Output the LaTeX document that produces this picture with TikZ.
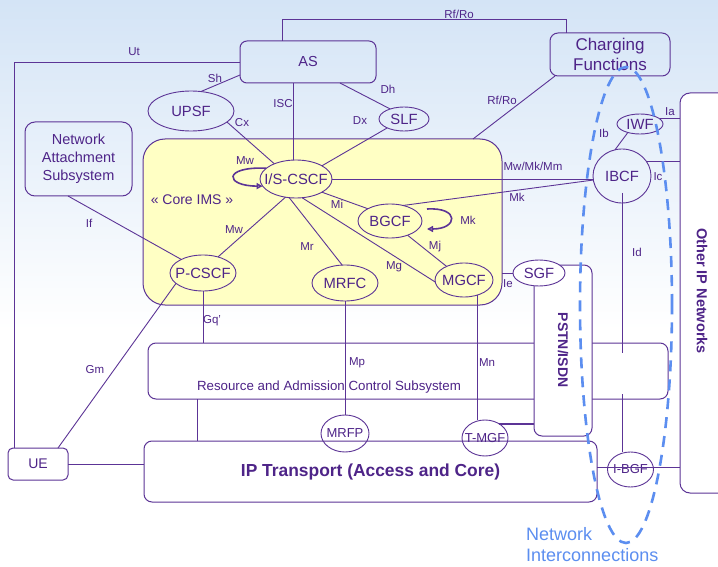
\documentclass[tikz,border=0pt]{standalone}
\usepackage{fontspec}
\setmainfont{Liberation Sans}
\usetikzlibrary{shapes.geometric,arrows.meta}
\definecolor{lc}{RGB}{92,52,150}
\definecolor{tc}{RGB}{78,36,136}
\definecolor{imsfill}{RGB}{255,255,196}
\definecolor{netblue}{RGB}{92,142,240}
\definecolor{bgA}{RGB}{212,228,246}
\definecolor{bgC}{RGB}{240,245,252}

\begin{document}
\begin{tikzpicture}[x=1pt,y=-1pt,
  ln/.style={draw=lc,line width=0.9pt},
  box/.style={draw=lc,line width=1pt,rounded corners=#1,inner sep=0,outer sep=0,text=tc,align=center},
  box/.default=7pt,
  elltext/.style={text=tc,inner sep=0,font=\fontsize{14.8}{17}\selectfont},
  elltextsm/.style={text=tc,inner sep=0,font=\fontsize{13}{15}\selectfont},
  ell/.style={ellipse,draw=lc,line width=0.9pt,inner sep=0,outer sep=0,label={[elltext]center:#1}},
  ellsm/.style={ellipse,draw=lc,line width=0.9pt,inner sep=0,outer sep=0,label={[elltextsm]center:#1}},
  lab/.style={text=tc,inner sep=0,font=\fontsize{11.5}{13}\selectfont},
  loopln/.style={draw=lc,line width=1.6pt,-{Triangle[open,length=6pt,width=6pt]}},
]
\useasboundingbox (0,0) rectangle (718,567);
\clip (0,0) rectangle (718,567);

% soft backdrop, pale blue at the top fading to white
\fill[white] (0,0) rectangle (718,567);
\shade[top color=bgA, middle color=bgC, bottom color=white] (0,0) rectangle (718,330);

% ---- boxes ----
\node[box=22pt, fill=imsfill, minimum width=359pt, minimum height=166pt] (core) at (322.5,222) {};
\node[box, minimum width=136pt, minimum height=42pt, font=\fontsize{14.5}{17}\selectfont] (as) at (308,62) {AS};
\node[box=8pt, minimum width=120pt, minimum height=43pt, font=\fontsize{17}{19.5}\selectfont] (cf) at (610,54.5) {Charging\\Functions};
\node[box=10pt, minimum width=107pt, minimum height=74pt, font=\fontsize{14.5}{18}\selectfont] (nas) at (78.5,159) {Network\\Attachment\\Subsystem};
\node[box=8pt, fill=white, minimum width=520pt, minimum height=56pt] (racs) at (408,371) {};
\node[box=8pt, fill=white, minimum width=453pt, minimum height=61pt, font=\bfseries\fontsize{17.4}{20}\selectfont] (ipt) at (370.5,471.5) {IP Transport (Access and Core)};
\node[box=5pt, minimum width=60pt, minimum height=32pt, font=\fontsize{14}{16}\selectfont] (ue) at (38,464) {UE};
\node[box=8pt, fill=white, minimum width=58pt, minimum height=171pt] (pstn) at (563,350.5) {};
\node[box=10pt, fill=white, minimum width=60pt, minimum height=400pt] (oipn) at (710,293) {};

% box captions
\node[lab, font=\fontsize{14}{16}\selectfont] (coretext) at (192,200) {« Core IMS »};
\node[lab, font=\fontsize{13.3}{15}\selectfont] (racstext) at (329,387) {Resource and Admission Control Subsystem};
\node[lab, font=\bfseries\fontsize{14}{16}\selectfont, rotate=-90] (pstntext) at (563,350) {PSTN/ISDN};
\node[lab, font=\bfseries\fontsize{14.5}{16}\selectfont, rotate=-90] (oipntext) at (702,291) {Other IP Networks};

% ---- functional entities ----
\node[ell=UPSF, minimum width=86pt, minimum height=40pt] (upsf) at (191,111) {};
\node[ell=SLF, minimum width=50pt, minimum height=24pt] (slf) at (404,119) {};
\node[ell=I/S-CSCF, minimum width=72pt, minimum height=38pt] (iscscf) at (296,179) {};
\node[ell=BGCF, minimum width=64pt, minimum height=34pt] (bgcf) at (390,221) {};
\node[ell=MGCF, minimum width=58pt, minimum height=34pt] (mgcf) at (464,280) {};
\node[ell=MRFC, minimum width=66pt, minimum height=36pt] (mrfc) at (345,283) {};
\node[ell=P-CSCF, minimum width=66pt, minimum height=36pt] (pcscf) at (203,273) {};
\node[ell=IBCF, minimum width=58pt, minimum height=54pt] (ibcf) at (622,176) {};
\node[ell=IWF, minimum width=46pt, minimum height=20pt] (iwf) at (640,124) {};
\node[ell=SGF, fill=white, minimum width=52pt, minimum height=26pt] (sgf) at (539,273) {};
\node[ellsm=MRFP, minimum width=48pt, minimum height=37pt] (mrfp) at (345,433.5) {};
\node[ellsm=T-MGF, minimum width=46pt, minimum height=36pt] (tmgf) at (485,438) {};
\node[ellsm=I-BGF, minimum width=46pt, minimum height=35pt] (ibgf) at (630.5,469.5) {};

% ---- reference points ----
\coordinate (rftop) at (566,19);
\coordinate (iscTop) at ([xshift=-15pt]as.south);
\coordinate (idTop) at ([yshift=10pt]ibcf.south);
\coordinate (idA) at (622,353);
\coordinate (idB) at (622,394);
\coordinate (racsIpt) at ([xshift=-211pt]racs.south);
\coordinate (iptOut) at ([yshift=4.5pt]ipt.east);
\coordinate (mkA) at ([shift={(5pt,12pt)}]bgcf.east);
\coordinate (mkB) at ([shift={(5pt,-8pt)}]bgcf.east);

% ---- interfaces ----
\draw[ln] ([xshift=-26pt]as.north) |- (rftop) -- (rftop |- cf.north);
\draw[ln] (as.west) -| ([xshift=-24pt]ue.north);
\draw[ln] (upsf.63) -- ([yshift=-13pt]as.west);
\draw[ln] (upsf.-17) -- (iscscf.145);
\draw[ln] (iscTop) -- (iscTop |- iscscf.north);
\draw[ln] ([xshift=32pt]as.south) -- (slf.144);
\draw[ln] (slf.208) -- (iscscf.27);
\draw[ln] ([xshift=-55pt]cf.south) -- ([xshift=150.5pt]core.north);
\draw[ln] (iscscf.east) -- (iscscf.east -| ibcf.west);
\draw[ln] (bgcf.50) -- (ibcf.188);
\draw[ln] (iwf.215) -- (ibcf.105);
\draw[ln] (iwf.15) -- (iwf.15 -| oipn.west);
\draw[ln] (ibcf.31) -- (ibcf.31 -| oipn.west);
\draw[ln] (idTop) -- (idA);
\draw[ln] (idB) -- (idB |- ibgf.north);
\draw[ln] (iscscf.-27) -- (bgcf.151);
\draw[ln] (bgcf.-39) -- (mgcf.142);
\draw[ln] (iscscf.-72) -- (mgcf.184);
\draw[ln] (iscscf.-110) -- (mrfc.99);
\draw[ln] (iscscf.-120) -- (pcscf.47);
\draw[ln] ([xshift=-10.5pt]nas.south) -- (pcscf.148);
\draw[ln] (pcscf.south) -- (pcscf.south |- racs.north);
\draw[ln] (pcscf.201) -- ([xshift=20pt]ue.north);
\draw[ln] (sgf.west -| core.east) -- (sgf.west);
\draw[ln] (mrfc.south) -- (mrfc.south |- mrfp.north);
\draw[ln] (mgcf.-49.5) -- (mgcf.-49.5 |- tmgf.north);
\draw[ln] (racsIpt) -- (racsIpt |- ipt.north);
\draw[ln] (ue.east) -- (ue.east -| ipt.west);
\draw[ln] (iptOut) -- (iptOut -| oipn.west);
\draw[draw=lc, line width=2.6pt] (tmgf.45) -- (tmgf.45 -| pstn.west);

% self-referencing interfaces
\draw[loopln] (iscscf.160) .. controls +(-44,-2) and +(-38,0) .. (iscscf.192);
\draw[loopln] (mkA) .. controls +(33,-2) and +(31,0) .. (mkB);

% ---- interface labels ----
\node[lab] (lrf1) at (459,14) {Rf/Ro};
\node[lab] (lut) at (134,52) {Ut};
\node[lab] (lsh) at (215,78) {Sh};
\node[lab] (lcx) at (242,123) {Cx};
\node[lab] (lisc) at (283,104) {ISC};
\node[lab] (ldh) at (388,89) {Dh};
\node[lab] (ldx) at (360,121) {Dx};
\node[lab] (lrf2) at (502,100) {Rf/Ro};
\node[lab] (lmwm) at (533,166) {Mw/Mk/Mm};
\node[lab] (lmk1) at (517,197) {Mk};
\node[lab] (lia) at (670,112) {Ia};
\node[lab] (lib) at (604,133) {Ib};
\node[lab] (lic) at (658,177) {Ic};
\node[lab] (lid) at (637,252) {Id};
\node[lab] (lmwl) at (245,161) {Mw};
\node[lab] (lmkl) at (468,220) {Mk};
\node[lab] (lmi) at (337,204) {Mi};
\node[lab] (lmj) at (435,247) {Mj};
\node[lab] (lmg) at (394,267) {Mg};
\node[lab] (lmr) at (307,247) {Mr};
\node[lab] (lmw) at (234,230) {Mw};
\node[lab] (lif) at (89,223) {If};
\node[lab] (lgq) at (212,321) {Gq'};
\node[lab] (lgm) at (95,370) {Gm};
\node[lab] (lie) at (508,284) {Ie};
\node[lab] (lmp) at (357,363) {Mp};
\node[lab] (lmn) at (487,363) {Mn};

% ---- network interconnection area ----
\node[ellipse, draw=netblue, line width=2.6pt, dash pattern=on 11pt off 8pt, minimum width=92pt, minimum height=476pt, inner sep=0] (netic) at (626,305) {};
\node[text=netblue, align=left, inner sep=0, anchor=north west, font=\fontsize{18}{21.5}\selectfont] (nettext) at (526,527) {Network\\Interconnections};
\end{tikzpicture}
\end{document}
